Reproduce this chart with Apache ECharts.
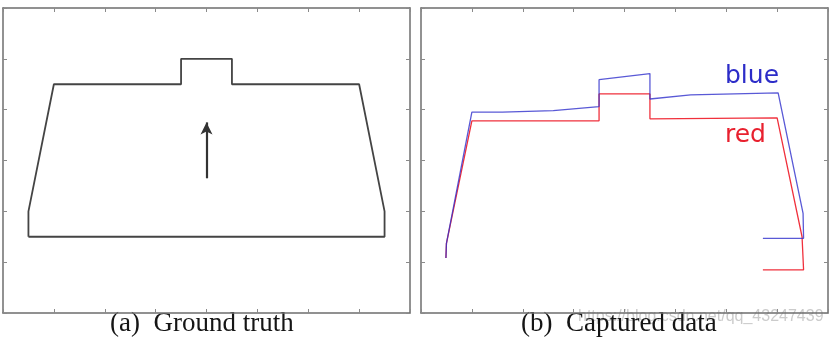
<!DOCTYPE html>
<html>
  <head>
    <meta charset="UTF-8" />
    <title>Ground truth vs captured data</title>
    <script src="https://cdn.jsdelivr.net/npm/echarts@6/dist/echarts.min.js"></script>
    <style>
      html, body { margin: 0; padding: 0; background: #fff; }
      #main { width: 833px; height: 337px; }
    </style>
  </head>
  <body>
    <div id="main"></div>
    <script>
      // ground truth outline
      var gtX = [0.5, 0.5, 1, 3.5, 3.5, 4.5, 4.5, 7, 7.5, 7.5, 0.5];
      var gtY = [1.5, 2, 4.5, 4.5, 5, 5, 4.5, 4.5, 2, 1.5, 1.5];
      // arrow in the middle
      var arrowX = 4;
      var arrowY = [2.65, 3.75];

      // captured data
      var blueX = [0.49, 0.5, 1.0, 1.6, 2.6, 3.5, 3.5, 4.5, 4.5, 5.3, 7.02, 7.51, 7.52, 6.72];
      var blueY = [1.08, 1.37, 3.95, 3.95, 3.98, 4.06, 4.59, 4.71, 4.21, 4.29, 4.33, 1.96, 1.47, 1.47];
      var redX = [0.49, 0.5, 1.0, 3.5, 3.5, 4.5, 4.5, 7.0, 7.49, 7.52, 6.72];
      var redY = [1.08, 1.37, 3.78, 3.78, 4.31, 4.31, 3.82, 3.84, 1.5, 0.85, 0.85];

      var xMax = 8, yMax = 6;

      function pairs(xs, ys) {
        return xs.map(function (x, i) { return [x, ys[i]]; });
      }

      var frame = { lineStyle: { color: "#6e6e6e", width: 1.5 } };
      var ticks = { inside: true, length: 4, lineStyle: { color: "#8a8a8a" } };

      function xAx(grid, pos) {
        return {
          type: "value", gridIndex: grid, position: pos, min: 0, max: xMax, interval: 1,
          axisLine: Object.assign({ show: true, onZero: false }, frame),
          axisTick: ticks, axisLabel: { show: false }, splitLine: { show: false }
        };
      }
      function yAx(grid, pos) {
        return {
          type: "value", gridIndex: grid, position: pos, min: 0, max: yMax, interval: 1,
          axisLine: Object.assign({ show: true, onZero: false }, frame),
          axisTick: ticks, axisLabel: { show: false }, splitLine: { show: false }
        };
      }

      var myChart = echarts.init(document.getElementById("main"));

      var option = {
        animation: false,
        grid: [
          { left: 3, top: 8, width: 407, height: 305 },
          { left: 421, top: 8, width: 407, height: 305 }
        ],
        xAxis: [xAx(0, "bottom"), xAx(0, "top"), xAx(1, "bottom"), xAx(1, "top")],
        yAxis: [yAx(0, "left"), yAx(0, "right"), yAx(1, "left"), yAx(1, "right")],
        series: [
          {
            name: "ground truth",
            type: "line",
            xAxisIndex: 0,
            yAxisIndex: 0,
            data: pairs(gtX, gtY),
            showSymbol: false,
            lineStyle: { color: "#444", width: 1.8 },
            markLine: {
              silent: true,
              symbol: ["none", "arrow"],
              symbolSize: [9, 12],
              lineStyle: { color: "#333", width: 2.2, type: "solid" },
              label: { show: false },
              data: [[{ coord: [arrowX, arrowY[0]] }, { coord: [arrowX, arrowY[1]] }]]
            }
          },
          {
            name: "red",
            type: "line",
            xAxisIndex: 2,
            yAxisIndex: 2,
            data: pairs(redX, redY),
            showSymbol: false,
            lineStyle: { color: "#f0303c", width: 1.3 }
          },
          {
            name: "blue",
            type: "line",
            xAxisIndex: 2,
            yAxisIndex: 2,
            data: pairs(blueX, blueY),
            showSymbol: false,
            lineStyle: { color: "#3030cc", width: 1.3, opacity: 0.8 }
          }
        ],
        graphic: [
          {
            type: "text", left: 725, top: 64,
            style: { text: "blue", fill: "#2c2cc8", font: "25px 'DejaVu Sans'" }
          },
          {
            type: "text", left: 725, top: 123,
            style: { text: "red", fill: "#e8202e", font: "25px 'DejaVu Sans'" }
          },
          {
            type: "text", left: 578, top: 309,
            style: { text: "https://blog.csdn.net/qq_43247439", fill: "rgba(160,160,160,0.55)", font: "16px 'Liberation Sans'" }
          },
          {
            type: "text", left: 110, top: 310,
            style: { text: "(a)  Ground truth", fill: "#151515", font: "27px 'Liberation Serif'" }
          },
          {
            type: "text", left: 521, top: 310,
            style: { text: "(b)  Captured data", fill: "#151515", font: "27px 'Liberation Serif'" }
          }
        ]
      };

      myChart.setOption(option);
    </script>
  </body>
</html>
